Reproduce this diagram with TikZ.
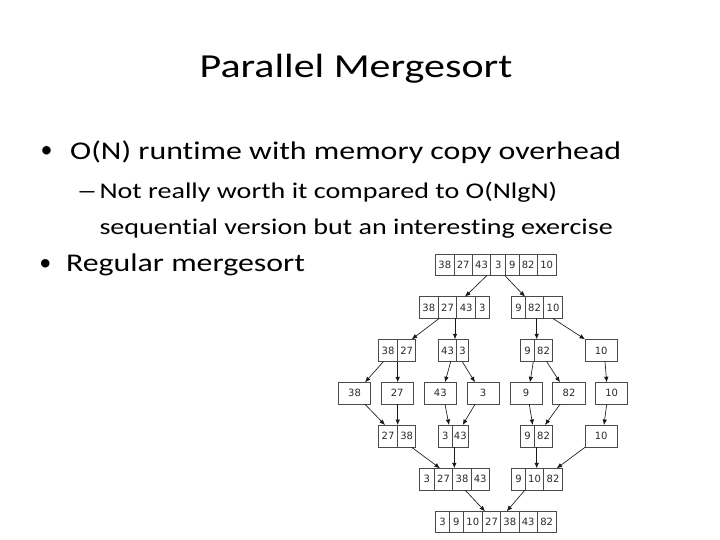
\documentclass[tikz,border=0pt]{standalone}
\usepackage{fontspec}
\usepackage{graphicx}
\setmainfont{Carlito}[FakeStretch=1.25, Ligatures=NoCommon]
\newfontfamily\numfont{DejaVu Sans}
\newfontfamily\bulletfont{Carlito}
\usetikzlibrary{arrows.meta,fit}
\definecolor{boxgray}{HTML}{4A4A4A}
\definecolor{numgray}{HTML}{2A2A2A}
\tikzset{
  grp/.style={draw=boxgray, line width=0.7pt, inner sep=0pt, outer sep=0pt, rectangle},
  divider/.style={draw=boxgray, line width=0.7pt},
  num/.style={inner sep=0pt, text height=7.3pt, text depth=0pt, font=\numfont\fontsize{10}{10}\selectfont, text=numgray},
  arr/.style={draw=black!90, line width=0.65pt, -{Latex[length=5.5pt,width=4.5pt]}},
  txt/.style={inner sep=0pt, outer sep=0pt, text=black},
  bul/.style={inner sep=0pt, outer sep=0pt, text=black, font=\bulletfont\fontsize{24}{24}\selectfont},
}
\newcommand{\cellgroup}[6]{%
  \node[grp, fit={(#2,#4) (#3,#5)}] (#1) {};
  \foreach \l/\r/\v [count=\i] in {#6} {
    \draw[divider] (\l,#4) -- (\l,#5);
    \node[num] (#1-\i) at ({(\l+\r)/2},{(#4+#5)/2}) {\v};
  }
}
\begin{document}
\begin{tikzpicture}[x=1pt,y=-1pt]
\fill[white] (0,0) rectangle (720,540);
\useasboundingbox (0,0) rectangle (720,540);

% text
\node[txt, anchor=base, font=\fontsize{33.6}{40}\selectfont] (title) at (356,77.3) {Parallel Mergesort};
\node[bul, anchor=center] (b1) at (46.7,151.7) {•};
\node[txt, anchor=base west, font=\fontsize{25.5}{30}\selectfont] (t1) at (70.2,159.3) {O(N) runtime with memory copy overhead};
\node[txt, anchor=base, font=\fontsize{22.45}{27}\selectfont] (d1) at (87,198.5) {\scalebox{1.5}[1]{–}};
\node[txt, anchor=base west, font=\fontsize{22.45}{27}\selectfont] (s1) at (99.5,198.5) {Not really worth it compared to O(NlgN)};
\node[txt, anchor=base west, font=\fontsize{22.45}{27}\selectfont] (s2) at (99.5,234) {sequential version but an interesting exercise};
\node[bul, anchor=center] (b2) at (45.3,265) {•};
\node[txt, anchor=base west, font=\fontsize{25.5}{30}\selectfont] (t2) at (66,271.7) {Regular mergesort};

% boxes
\cellgroup{g1}{435.7}{556}{254}{275.7}{435.7/454/38, 454/472.3/27, 472.3/490.7/43, 490.7/505.7/3, 505.7/519/9, 519/537.3/82, 537.3/556/10}
\cellgroup{g2a}{419.3}{489}{296.7}{318.3}{419.3/438.3/38, 438.3/456.7/27, 456.7/475.7/43, 475.7/489/3}
\cellgroup{g2b}{511.7}{562.3}{296.7}{318.3}{511.7/525.3/9, 525.3/543.7/82, 543.7/562.3/10}
\cellgroup{g3a}{378.3}{415.7}{339.3}{361.7}{378.3/397.7/38, 397.7/415.7/27}
\cellgroup{g3b}{438.3}{468.3}{339.3}{361.7}{438.3/456.7/43, 456.7/468.3/3}
\cellgroup{g3c}{520.7}{552.7}{339.3}{361.7}{520.7/534.3/9, 534.3/552.7/82}
\cellgroup{g3d}{585}{617.3}{339.3}{361.7}{585/617.3/10}
\cellgroup{g4a}{338.3}{370.7}{382.3}{404.3}{338.3/370.7/38}
\cellgroup{g4b}{381}{413.3}{382.3}{404.3}{381/413.3/27}
\cellgroup{g4c}{424}{456.7}{382.3}{404.3}{424/456.7/43}
\cellgroup{g4d}{467}{499.3}{382.3}{404.3}{467/499.3/3}
\cellgroup{g4e}{510}{542.3}{382.3}{404.3}{510/542.3/9}
\cellgroup{g4f}{552.7}{585.3}{382.3}{404.3}{552.7/585.3/82}
\cellgroup{g4g}{595.7}{627.7}{382.3}{404.3}{595.7/627.7/10}
\cellgroup{g5a}{378.3}{415.7}{425}{447.3}{378.3/397.7/27, 397.7/415.7/38}
\cellgroup{g5b}{438.3}{468.3}{425}{447.3}{438.3/452.3/3, 452.3/468.3/43}
\cellgroup{g5c}{520.7}{552.7}{425}{447.3}{520.7/534.3/9, 534.3/552.7/82}
\cellgroup{g5d}{585}{617.3}{425}{447.3}{585/617.3/10}
\cellgroup{g6a}{419.3}{489}{468.3}{490}{419.3/434.3/3, 434.3/452.7/27, 452.7/471.3/38, 471.3/489/43}
\cellgroup{g6b}{511.7}{562.3}{468.3}{490}{511.7/525.3/9, 525.3/543.7/10, 543.7/562.3/82}
\cellgroup{g7}{435.7}{556}{511.3}{532.7}{435.7/449.3/3, 449.3/463.3/9, 463.3/482.3/10, 482.3/500.7/27, 500.7/519/38, 519/537.3/43, 537.3/556/82}

% arrows
\draw[arr] ([xshift=51pt]g1.south west) -- ([xshift=45.7pt]g2a.north west);
\draw[arr] ([xshift=69.3pt]g1.south west) -- ([xshift=13.3pt]g2b.north west);
\draw[arr] ([xshift=20pt]g2a.south west) -- ([xshift=33.4pt]g3a.north west);
\draw[arr] ([xshift=35.7pt]g2a.south west) -- ([xshift=16.7pt]g3b.north west);
\draw[arr] ([xshift=25pt]g2b.south west) -- ([xshift=16pt]g3c.north west);
\draw[arr] ([xshift=41pt]g2b.south west) -- (g3d.north west);
\draw[arr] ([xshift=5pt]g3a.south west) -- ([xshift=26.7pt]g4a.north west);
\draw[arr] ([xshift=19.4pt]g3a.south west) -- ([xshift=16.7pt]g4b.north west);
\draw[arr] ([xshift=12.4pt]g3b.south west) -- ([xshift=21pt]g4c.north west);
\draw[arr] ([xshift=24pt]g3b.south west) -- ([xshift=8pt]g4d.north west);
\draw[arr] ([xshift=12.6pt]g3c.south west) -- ([xshift=20pt]g4e.north west);
\draw[arr] ([xshift=26pt]g3c.south west) -- ([xshift=7.3pt]g4f.north west);
\draw[arr] ([xshift=20pt]g3d.south west) -- ([xshift=11pt]g4g.north west);
\draw[arr] ([xshift=26.7pt]g4a.south west) -- ([xshift=6.7pt]g5a.north west);
\draw[arr] ([xshift=16.7pt]g4b.south west) -- ([xshift=19.4pt]g5a.north west);
\draw[arr] ([xshift=21pt]g4c.south west) -- ([xshift=10.7pt]g5b.north west);
\draw[arr] ([xshift=8pt]g4d.south west) -- ([xshift=24.4pt]g5b.north west);
\draw[arr] ([xshift=19.3pt]g4e.south west) -- ([xshift=12pt]g5c.north west);
\draw[arr] ([xshift=7.3pt]g4f.south west) -- ([xshift=24.3pt]g5c.north west);
\draw[arr] ([xshift=11pt]g4g.south west) -- ([xshift=19pt]g5d.north west);
\draw[arr] ([xshift=33.4pt]g5a.south west) -- ([xshift=20.7pt]g6a.north west);
\draw[arr] ([xshift=16pt]g5b.south west) -- ([xshift=35pt]g6a.north west);
\draw[arr] ([xshift=16pt]g5c.south west) -- ([xshift=25pt]g6b.north west);
\draw[arr] (g5d.south west) -- ([xshift=45pt]g6b.north west);
\draw[arr] ([xshift=45.7pt]g6a.south west) -- ([xshift=49.3pt]g7.north west);
\draw[arr] ([xshift=13.3pt]g6b.south west) -- ([xshift=71pt]g7.north west);
\end{tikzpicture}
\end{document}
